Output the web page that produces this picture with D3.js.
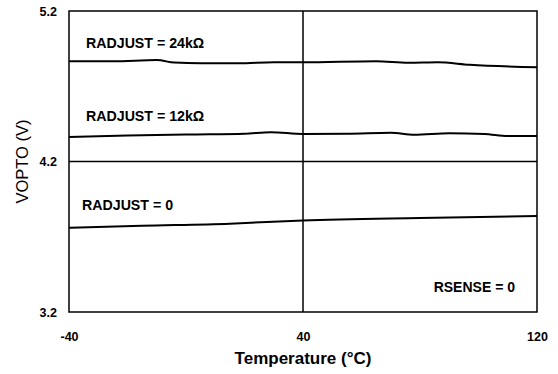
<!DOCTYPE html>
<html>
<head>
<meta charset="utf-8">
<script src="https://cdn.jsdelivr.net/npm/d3@7"></script>
<style>
  body { margin: 0; background: #fff; }
  text { font-family: "Liberation Sans", Arial, sans-serif; fill: #000; }
</style>
</head>
<body>
<div class="chart"></div>
<script>
// values
const temp24k = [-40, -25, -10, -4, 5, 18, 30, 40, 65, 76, 86, 97, 120];
const vopto24k = [4.866, 4.866, 4.874, 4.857, 4.852, 4.852, 4.860, 4.859, 4.866, 4.856, 4.859, 4.843, 4.826];

const temp12k = [-40, -20, 0, 20, 29, 40, 55, 70, 78, 90, 102, 110, 120];
const vopto12k = [4.362, 4.372, 4.380, 4.385, 4.395, 4.383, 4.384, 4.391, 4.378, 4.387, 4.383, 4.369, 4.369];

const temp0 = [-40, -15, 15, 40, 80, 120];
const vopto0 = [3.760, 3.773, 3.787, 3.808, 3.825, 3.838];

const xTicks = [-40, 40, 120];
const yTicks = [3.2, 4.2, 5.2];

const seriesLabels = ["RADJUST = 24kΩ", "RADJUST = 12kΩ", "RADJUST = 0"];

const margin = {top: 11, right: 21, bottom: 62, left: 69};
const width = 558 - margin.left - margin.right,
      height = 374 - margin.top - margin.bottom;

const svg = d3.select(".chart").append("svg")
    .attr("width", width + margin.left + margin.right)
    .attr("height", height + margin.top + margin.bottom)
  .append("g")
    .attr("transform", `translate(${margin.left},${margin.top})`);

const xScale = d3.scaleLinear().domain([-40, 120]).range([0, width]);
const yScale = d3.scaleLinear().domain([3.2, 5.2]).range([height, 0]);

// grid lines at the middle tick
svg.append("line")
    .attr("x1", xScale(40)).attr("x2", xScale(40))
    .attr("y1", 0).attr("y2", height)
    .attr("stroke", "#000").attr("stroke-width", 1.5);
svg.append("line")
    .attr("x1", 0).attr("x2", width)
    .attr("y1", yScale(4.2)).attr("y2", yScale(4.2))
    .attr("stroke", "#000").attr("stroke-width", 1.5);

// frame
svg.append("rect")
    .attr("width", width).attr("height", height)
    .attr("fill", "none").attr("stroke", "#000").attr("stroke-width", 1.5);

// axes, no tick marks
const xAxis = d3.axisBottom(xScale).tickValues(xTicks).tickSize(0).tickPadding(20)
    .tickFormat(d => String(d));
const yAxis = d3.axisLeft(yScale).tickValues(yTicks).tickSize(0).tickPadding(12)
    .tickFormat(d3.format(".1f"));

svg.append("g")
    .attr("class", "axis x-axis")
    .attr("transform", `translate(0,${height})`)
    .call(xAxis)
    .call(g => g.select(".domain").remove());

svg.append("g")
    .attr("class", "axis y-axis")
    .call(yAxis)
    .call(g => g.select(".domain").remove());

svg.selectAll(".axis text")
    .attr("font-family", "Liberation Sans, Arial, sans-serif")
    .attr("font-size", 12.5)
    .attr("font-weight", "bold");

// data lines
const line = d3.line()
    .x(d => xScale(d[0]))
    .y(d => yScale(d[1]))
    .curve(d3.curveMonotoneX);

const series = [
  d3.zip(temp24k, vopto24k),
  d3.zip(temp12k, vopto12k),
  d3.zip(temp0, vopto0)
];

svg.selectAll(".series")
    .data(series)
    .enter()
    .append("path")
    .attr("class", "series")
    .attr("fill", "none")
    .attr("stroke", "#000")
    .attr("stroke-width", 2)
    .attr("d", line);

// labels over each curve
const labelPos = [[17, 37], [17, 110], [13, 199]];
svg.selectAll(".label")
    .data(seriesLabels)
    .enter()
    .append("text")
    .attr("class", "label")
    .attr("x", (d, i) => labelPos[i][0])
    .attr("y", (d, i) => labelPos[i][1])
    .attr("font-size", 14.2)
    .attr("font-weight", "bold")
    .text(d => d);

svg.append("text")
    .attr("x", width - 22)
    .attr("y", height - 20)
    .attr("text-anchor", "end")
    .attr("font-size", 14)
    .attr("font-weight", "bold")
    .text("RSENSE = 0");

// axis titles
svg.append("text")
    .attr("x", width / 2)
    .attr("y", height + 52)
    .attr("text-anchor", "middle")
    .attr("font-size", 17)
    .attr("font-weight", "bold")
    .text("Temperature (°C)");

svg.append("text")
    .attr("transform", `translate(${-41},${height / 2}) rotate(-90)`)
    .attr("text-anchor", "middle")
    .attr("font-size", 16.5)
    .text("VOPTO (V)");
</script>
</body>
</html>
